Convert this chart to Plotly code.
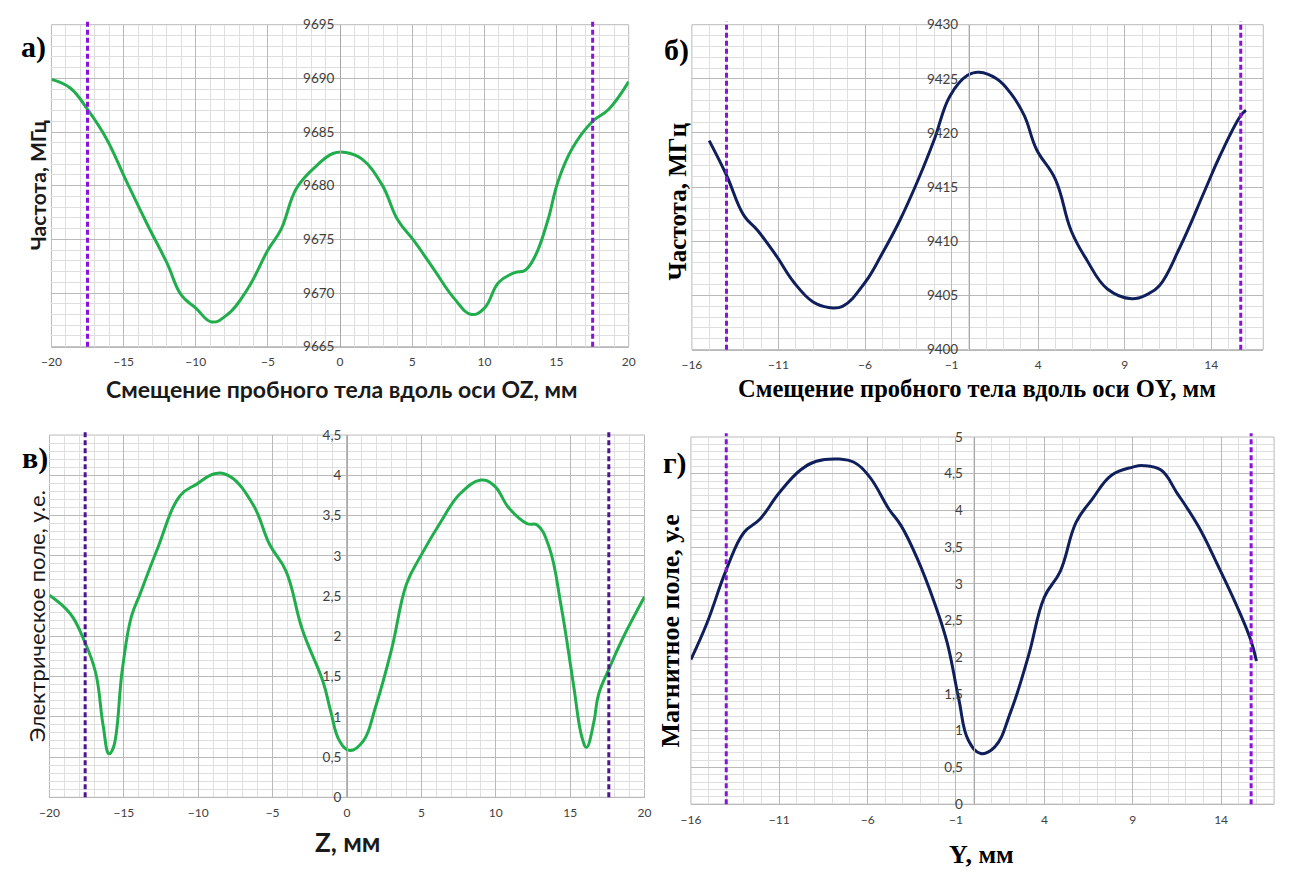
import plotly.graph_objects as go

W, H = 1289, 874

# ---- data: panel а (frequency vs Z) ----
a_x = [-20, -18.7, -17.5, -16.2, -14.8, -13.4, -12.0, -11.0, -10.0, -8.9, -7.8, -6.4, -5.0, -4.1, -3.0,
       -1.6, -0.5, 0.4, 1.5, 2.9, 4.0, 5.1, 6.5, 7.9, 9.1, 10.0, 11.0, 12.1, 12.8, 13.5, 14.4, 15.1,
       16.1, 17.5, 18.6, 20]
a_y = [9689.9, 9689.1, 9687.1, 9684.4, 9680.4, 9676.5, 9672.8, 9669.8, 9668.6, 9667.3, 9668.0, 9670.4,
       9674.0, 9675.9, 9679.8, 9681.9, 9683.0, 9683.1, 9682.5, 9680.1, 9676.8, 9674.9, 9672.2, 9669.5,
       9668.0, 9668.6, 9671.0, 9671.9, 9672.1, 9673.4, 9676.8, 9680.4, 9683.5, 9686.0, 9687.1, 9689.7]

# ---- data: panel б (frequency vs Y) ----
b_x = [-15.0, -14.0, -13.0, -12.2, -11.1, -10.1, -9.0, -8.1, -7.3, -6.0, -5.0, -4.0, -2.9, -2.0, -1.1,
       -0.1, 0.6, 1.6, 2.4, 3.2, 3.9, 5.0, 5.9, 6.8, 8.0, 9.4, 10.3, 11.0, 12.2, 13.6, 14.5, 15.7, 16.0]
b_y = [9419.3, 9416.1, 9412.4, 9411.0, 9408.6, 9406.2, 9404.4, 9403.9, 9404.0, 9406.2, 9408.9, 9411.9,
       9415.8, 9419.4, 9423.4, 9425.3, 9425.6, 9425.0, 9423.7, 9421.6, 9418.5, 9415.7, 9411.0, 9408.3,
       9405.6, 9404.7, 9405.1, 9405.9, 9409.5, 9414.6, 9417.9, 9421.6, 9422.1]

# ---- data: panel в (electric field vs Z) ----
c_x = [-20, -18.6, -17.7, -16.9, -16.4, -16.0, -15.7, -15.1, -14.5, -13.9, -12.8, -11.2, -10.1, -8.9,
       -7.9, -6.3, -5.2, -4.1, -3.0, -1.6, -1.1, -0.5, 0.2, 1.1, 1.9, 3.0, 4.0, 4.9, 6.3, 7.6, 9.0, 9.9,
       10.9, 12.1, 12.8, 13.6, 14.4, 15.2, 15.8, 16.1, 16.6, 16.9, 17.6, 18.5, 20]
c_y = [2.51, 2.28, 1.96, 1.55, 0.90, 0.54, 0.62, 1.59, 2.24, 2.53, 3.06, 3.75, 3.89, 4.02, 3.99, 3.63,
       3.14, 2.81, 2.08, 1.43, 1.07, 0.70, 0.58, 0.70, 1.11, 1.84, 2.65, 2.98, 3.42, 3.77, 3.94, 3.87,
       3.59, 3.40, 3.38, 3.10, 2.37, 1.43, 0.74, 0.62, 0.94, 1.27, 1.59, 1.96, 2.49]

# ---- data: panel г (magnetic field vs Y) ----
d_x = [-16, -15.1, -14.0, -13.0, -12.1, -11.0, -9.8, -8.9, -7.6, -6.8, -5.9, -4.8, -4.1, -3.2, -2.2,
       -1.5, -0.85, -0.3, 0.4, 1.2, 2.1, 3.1, 4.0, 4.9, 5.8, 6.7, 7.8, 9.0, 9.6, 10.6, 11.5, 12.7, 13.8,
       15.0, 15.7, 16.0]
d_y = [1.97, 2.46, 3.19, 3.70, 3.88, 4.24, 4.55, 4.67, 4.70, 4.66, 4.46, 4.02, 3.79, 3.35, 2.73, 2.20,
       1.44, 0.87, 0.69, 0.78, 1.26, 2.02, 2.82, 3.17, 3.84, 4.15, 4.48, 4.59, 4.61, 4.55, 4.24, 3.79,
       3.26, 2.64, 2.22, 1.95]

# boundary markers (dashed lines)
a_bounds = [-17.5, 17.5]
b_bounds = [-14.0, 15.7]
c_bounds = [-17.6, 17.6]
d_bounds = [-14.0, 15.7]

GREEN = "#1fae4b"
NAVY = "#0f1f5c"
VIOLET = "#8a12dc"
INDIGO = "#4e1590"
MAJOR = "#b9b9b9"
MINOR = "#dedede"
TICKFONT = dict(family="Lato, 'Open Sans', sans-serif", size=13.5, color="#404040")

fig = go.Figure()

panels = [
    ("", (42, 627), (17, 345), (-20, 20), -20, 5, (9665, 9695), 5, 1, (a_x, a_y), GREEN, a_bounds, VIOLET, 3),
    ("2", (691, 1270), (17, 348), (-16, 17), -16, 5, (9400, 9430), 5, 1, (b_x, b_y), NAVY, b_bounds, VIOLET, 8),
    ("3", (40, 643), (435, 804), (-20, 20), -20, 5, (0, 4.5), 0.5, 0.1, (c_x, c_y), GREEN, c_bounds, INDIGO, 3),
    ("4", (690, 1281), (437, 811), (-16, 17), -16, 5, (0, 5), 0.5, 0.1, (d_x, d_y), NAVY, d_bounds, VIOLET, 8),
]

shapes = []
layout_axes = {}
for key, xd, yd, xr, xt0, xdt, yr, ydt, ymin, (xs, ys), col, bounds, bcol, ystand in panels:
    xdom = [xd[0] / W, xd[1] / W]
    ydom = [1 - yd[1] / H, 1 - yd[0] / H]
    xa = "x" + key
    ya = "y" + key
    pos = xdom[0] + (0 - xr[0]) / (xr[1] - xr[0]) * (xdom[1] - xdom[0])
    layout_axes["xaxis" + key] = dict(
        domain=xdom, range=list(xr), anchor=ya, tick0=xt0, dtick=xdt,
        showgrid=True, gridcolor=MAJOR, gridwidth=1, zeroline=False,
        minor=dict(dtick=1, tick0=xt0, showgrid=True, gridcolor=MINOR, gridwidth=1),
        showline=True, linecolor=MAJOR, ticks="", tickfont=dict(TICKFONT, size=12),
        ticklabelstandoff=4, fixedrange=True,
    )
    layout_axes["yaxis" + key] = dict(
        domain=ydom, range=list(yr), anchor="free", position=pos, tick0=yr[0], dtick=ydt,
        showgrid=True, gridcolor=MAJOR, gridwidth=1, zeroline=False,
        minor=dict(dtick=ymin, tick0=yr[0], showgrid=True, gridcolor=MINOR, gridwidth=1),
        showline=True, linecolor="#a8a8a8", ticks="", tickfont=TICKFONT,
        ticklabelstandoff=ystand, fixedrange=True,
    )
    fig.add_trace(go.Scatter(
        x=xs, y=ys, mode="lines", xaxis=xa, yaxis=ya,
        line=dict(color=col, width=3, shape="spline", smoothing=1.2),
        showlegend=False, hoverinfo="skip",
    ))
    shapes.append(dict(type="rect", xref=xa + " domain", yref=ya + " domain", x0=0, x1=1, y0=0, y1=1,
                       line=dict(color=MAJOR, width=1), layer="below"))
    for bx in bounds:
        shapes.append(dict(type="line", xref=xa, yref=ya + " domain", x0=bx, x1=bx, y0=0, y1=1.01,
                           line=dict(color=bcol, width=3, dash="5px,3px")))

SANS = "Lato, 'Open Sans', sans-serif"
SERIF = "'Liberation Serif', 'Times New Roman', serif"

def ann(text, px, py, size, family, bold=True, angle=0, color="#000000"):
    return dict(
        text=("<b>%s</b>" % text) if bold else text,
        x=px / W, y=1 - py / H, xref="paper", yref="paper",
        showarrow=False, textangle=angle, xanchor="center", yanchor="middle",
        font=dict(family=family, size=size, color=color),
    )

annotations = [
    ann("а)", 24, 40, 30, SERIF),
    ann("б)", 675, 43, 30, SERIF),
    ann("в)", 25, 458, 30, SERIF),
    ann("г)", 674, 463, 30, SERIF),
    ann("Смещение пробного тела вдоль оси OZ, мм", 336, 388, 23, SANS, color="#1a1a1a"),
    ann("Частота, МГц", 28, 181, 21, SANS, angle=-90, color="#1a1a1a"),
    ann("Смещение пробного тела вдоль оси OY, мм", 980, 388, 24.5, SERIF),
    ann("Частота, МГц", 676, 197, 25, SERIF, angle=-90),
    ann("Z, мм", 342, 850, 26, SANS, color="#1a1a1a"),
    ann("Электрическое поле, у.е.", 27, 620, 22, SANS, bold=False, angle=-90, color="#1a1a1a"),
    ann("Y, мм", 984, 862, 26, SERIF),
    ann("Магнитное поле, у.е", 669, 635, 26, SERIF, angle=-90),
]

fig.update_layout(
    width=W, height=H, margin=dict(l=0, r=0, t=0, b=0),
    paper_bgcolor="white", plot_bgcolor="white",
    separators=", ",
    shapes=shapes, annotations=annotations,
    **layout_axes,
)

fig.write_html("out.html")
